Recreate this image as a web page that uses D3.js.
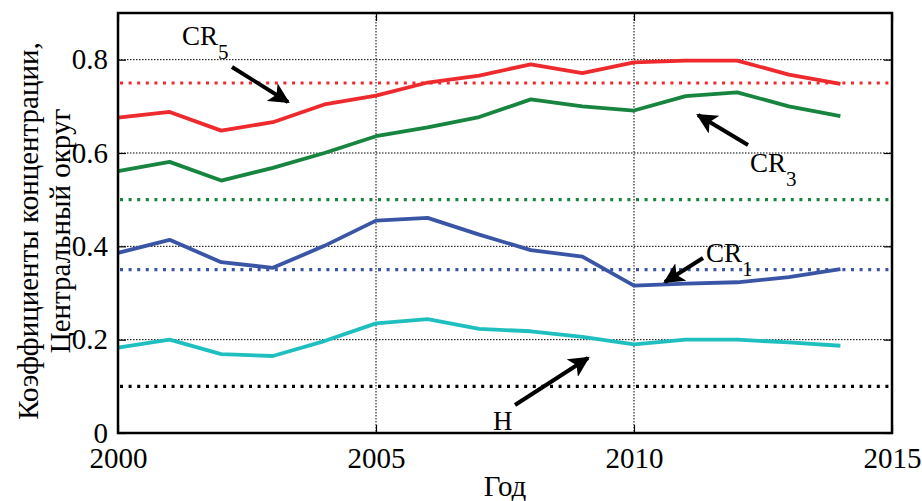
<!DOCTYPE html>
<html lang="ru">
<head>
<meta charset="utf-8">
<title>Коэффициенты концентрации</title>
<script src="https://d3js.org/d3.v7.min.js"></script>
<style>
body { margin: 0; background: #fff; }
.grid line { stroke: #000; stroke-width: 1; stroke-dasharray: 1.5,1.5; }
</style>
</head>
<body>
<svg width="922" height="501"></svg>
<script>
var years = [2000, 2001, 2002, 2003, 2004, 2005, 2006, 2007, 2008, 2009, 2010, 2011, 2012, 2013, 2014];
var cr5 = [0.676, 0.688, 0.648, 0.666, 0.704, 0.723, 0.751, 0.766, 0.790, 0.771, 0.794, 0.798, 0.798, 0.768, 0.748];
var cr3 = [0.561, 0.581, 0.541, 0.568, 0.600, 0.636, 0.655, 0.677, 0.715, 0.700, 0.691, 0.722, 0.730, 0.700, 0.679];
var cr1 = [0.386, 0.414, 0.366, 0.354, 0.401, 0.455, 0.461, 0.425, 0.392, 0.378, 0.316, 0.320, 0.323, 0.334, 0.351];
var hh  = [0.183, 0.200, 0.169, 0.165, 0.197, 0.235, 0.244, 0.223, 0.218, 0.206, 0.190, 0.200, 0.200, 0.194, 0.187];
// threshold levels (dotted)
var levels = [0.75, 0.5, 0.35, 0.1];
var xTicks = [2000, 2005, 2010, 2015];
var yTicks = [0, 0.2, 0.4, 0.6, 0.8];

var colors = ["#ee2a2e", "#17843f", "#3a55a5", "#20bfbf"];
var levelColors = ["#ee2a2e", "#17843f", "#3a55a5", "#000"];
var series = [cr5, cr3, cr1, hh];

// pick an installed serif face (Times-like) by measuring text
function findSerif() {
  var c = document.createElement("canvas").getContext("2d");
  var s = "Год 2000 CRHmwil Коэффициенты";
  function w(f) { c.font = "40px " + f; return c.measureText(s).width; }
  var base = [w("monospace"), w("sans-serif")];
  var cands = ["Liberation Serif", "Times New Roman", "Tinos", "Nimbus Roman", "Nimbus Roman No9 L",
               "FreeSerif", "Noto Serif", "DejaVu Serif", "Times", "Georgia"];
  for (var i = 0; i < cands.length; i++) {
    var a = w("'" + cands[i] + "', monospace"), b = w("'" + cands[i] + "', sans-serif");
    if (a !== base[0] || b !== base[1]) return "'" + cands[i] + "', serif";
  }
  return "serif";
}
var serif = findSerif();

var svg = d3.select("svg").style("font-family", serif),
    pL = 118, pR = 892, pT = 13, pB = 433;

var x = d3.scaleLinear().domain([2000, 2015]).range([pL, pR]),
    y = d3.scaleLinear().domain([0, 0.9]).range([pB, pT]);

// grid
var grid = svg.append("g").attr("class", "grid");
grid.selectAll(".gy").data(yTicks.filter(function(d) { return d > 0; }))
  .enter().append("line")
  .attr("x1", pL).attr("x2", pR)
  .attr("y1", function(d) { return y(d); }).attr("y2", function(d) { return y(d); });
grid.selectAll(".gx").data(xTicks.filter(function(d) { return d > 2000 && d < 2015; }))
  .enter().append("line")
  .attr("y1", pT).attr("y2", pB)
  .attr("x1", function(d) { return x(d); }).attr("x2", function(d) { return x(d); });

// dotted levels
svg.selectAll(".level").data(levels).enter().append("line")
  .attr("x1", pL + 2).attr("x2", pR)
  .attr("y1", function(d) { return y(d); }).attr("y2", function(d) { return y(d); })
  .attr("stroke", function(d, i) { return levelColors[i]; })
  .attr("stroke-width", 3.2)
  .attr("stroke-dasharray", "3,5.6");

// data lines
var line = d3.line()
  .x(function(d, i) { return x(years[i]); })
  .y(function(d) { return y(d); });

svg.selectAll(".series").data(series).enter().append("path")
  .attr("d", line)
  .attr("fill", "none")
  .attr("stroke", function(d, i) { return colors[i]; })
  .attr("stroke-width", 3.8)
  .attr("stroke-linejoin", "round");

// axes (ticks inside, box)
var tk = 8;
function styleAxis(g) {
  g.select(".domain").remove();
  g.selectAll("line").attr("stroke-width", 1.2);
  g.selectAll("text").attr("font-size", 29).style("font-family", serif).attr("fill", "#000");
  g.attr("font-family", serif);
}
svg.append("g").attr("transform", "translate(0," + pB + ")")
  .call(d3.axisBottom(x).tickValues(xTicks).tickSizeInner(-tk).tickSizeOuter(0).tickFormat(d3.format("d")).tickPadding(14))
  .call(styleAxis);
svg.append("g").attr("transform", "translate(" + pL + ",0)")
  .call(d3.axisLeft(y).tickValues(yTicks).tickSizeInner(-tk).tickSizeOuter(0).tickFormat(function(d) { return d === 0 ? "0" : d3.format(".1f")(d); }).tickPadding(10))
  .call(styleAxis);
svg.append("g").attr("transform", "translate(0," + pT + ")")
  .call(d3.axisTop(x).tickValues(xTicks).tickSizeInner(-tk).tickSizeOuter(0).tickFormat(""))
  .call(styleAxis);
svg.append("g").attr("transform", "translate(" + pR + ",0)")
  .call(d3.axisRight(y).tickValues(yTicks).tickSizeInner(-tk).tickSizeOuter(0).tickFormat(""))
  .call(styleAxis);

svg.append("rect")
  .attr("x", pL).attr("y", pT)
  .attr("width", pR - pL).attr("height", pB - pT)
  .attr("fill", "none").attr("stroke", "#000").attr("stroke-width", 2.5);

// axis titles
svg.append("text")
  .attr("x", (pL + pR) / 2).attr("y", 496)
  .attr("text-anchor", "middle").attr("font-size", 29)
  .style("font-family", serif)
  .text("Год");

var yl = svg.append("text")
  .attr("transform", "translate(0,231) rotate(-90)")
  .attr("text-anchor", "middle").attr("font-size", 29)
  .style("font-family", serif);
yl.append("tspan").attr("x", 0).attr("y", 38).text("Коэффициенты концентрации,");
yl.append("tspan").attr("x", 0).attr("y", 70).text("Центральный округ");

// annotations
var marker = svg.append("defs").append("marker")
  .attr("id", "ah").attr("viewBox", "0 0 10 10")
  .attr("refX", 9).attr("refY", 5)
  .attr("markerWidth", 5.2).attr("markerHeight", 5.2)
  .attr("markerUnits", "strokeWidth")
  .attr("orient", "auto");
marker.append("path").attr("d", "M0,0 L10,5 L0,10 L2.5,5 Z").attr("fill", "#000");

var notes = [
  {t: "CR", s: "5", tx: 182, ty: 45, ax1: 232, ay1: 67, ax2: 288, ay2: 102},
  {t: "CR", s: "3", tx: 750, ty: 172, ax1: 748, ay1: 145, ax2: 698, ay2: 115},
  {t: "CR", s: "1", tx: 706, ty: 262, ax1: 703, ay1: 258, ax2: 665, ay2: 282},
  {t: "H", s: "", tx: 493, ty: 430, ax1: 515, ay1: 405, ax2: 588, ay2: 358}
];
notes.forEach(function(n) {
  var t = svg.append("text").attr("x", n.tx).attr("y", n.ty).attr("font-size", 27)
    .style("font-family", serif).text(n.t);
  if (n.s) t.append("tspan").attr("dy", 14).attr("font-size", 21).text(n.s);
  svg.append("line")
    .attr("x1", n.ax1).attr("y1", n.ay1).attr("x2", n.ax2).attr("y2", n.ay2)
    .attr("stroke", "#000").attr("stroke-width", 4)
    .attr("marker-end", "url(#ah)");
});
</script>
</body>
</html>
